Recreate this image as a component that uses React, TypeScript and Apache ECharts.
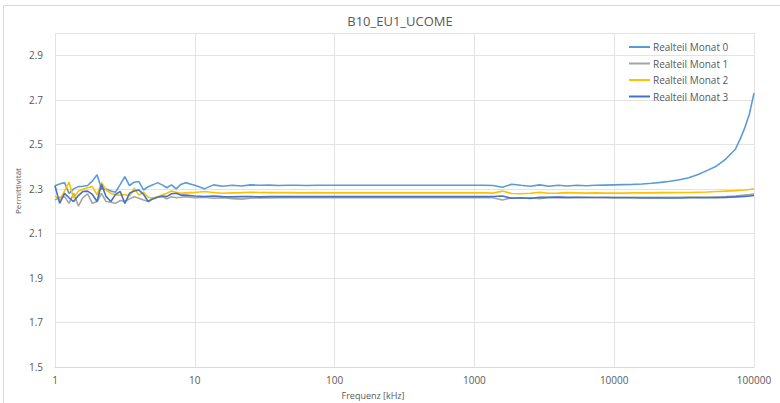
import React, { useEffect, useRef } from "react";
import * as echarts from "echarts";

// Measurement frequencies in kHz
const frequencies: number[] = [
  1, 1.08, 1.17, 1.26, 1.36, 1.47, 1.58, 1.71, 1.85, 2.0, 2.15, 2.32, 2.51, 2.71, 2.93, 3.16,
  3.41, 3.69, 3.98, 4.3, 4.64, 5.01, 5.41, 5.84, 6.31, 6.81, 7.36, 7.94, 8.58, 9.26, 10,
  11.7, 13.6, 15.8, 18.5, 21.5, 25.1, 29.3, 34.1, 39.8, 46.4, 54.1, 63.1, 73.6, 85.8, 100,
  126, 158, 200, 251, 316, 398, 501, 631, 794, 1000,
  1166, 1359, 1585, 1848, 2154, 2512, 2929, 3415, 3981, 4642, 5412, 6310, 7356, 8577, 10000,
  11659, 13594, 15849, 18478, 21544, 25119, 29286, 34145, 39811, 46416, 54117, 63096, 73564,
  79433, 85770, 92612, 100000,
];

const monat0: number[] = [
  2.314, 2.322, 2.328, 2.28, 2.3, 2.31, 2.312, 2.315, 2.335, 2.363, 2.3, 2.3, 2.29, 2.285, 2.32, 2.355,
  2.315, 2.33, 2.333, 2.295, 2.31, 2.318, 2.328, 2.318, 2.305, 2.318, 2.3, 2.32, 2.328, 2.322, 2.316,
  2.3, 2.318, 2.312, 2.316, 2.313, 2.318, 2.316, 2.317, 2.315, 2.316, 2.316, 2.315, 2.316, 2.316, 2.316,
  2.316, 2.316, 2.316, 2.316, 2.316, 2.316, 2.316, 2.316, 2.316, 2.316,
  2.316, 2.315, 2.307, 2.321, 2.316, 2.312, 2.318, 2.312, 2.316, 2.313, 2.316, 2.314, 2.316, 2.317, 2.318,
  2.319, 2.32, 2.322, 2.325, 2.329, 2.334, 2.341, 2.35, 2.365, 2.383, 2.403, 2.435, 2.478,
  2.522, 2.573, 2.635, 2.73,
];

const monat1: number[] = [
  2.25, 2.262, 2.265, 2.235, 2.28, 2.223, 2.26, 2.278, 2.235, 2.243, 2.28, 2.243, 2.24, 2.235, 2.248, 2.243,
  2.255, 2.265, 2.258, 2.25, 2.243, 2.26, 2.262, 2.265, 2.255, 2.265, 2.26, 2.262, 2.265, 2.263, 2.26,
  2.262, 2.258, 2.26, 2.256, 2.254, 2.258, 2.26, 2.259, 2.26, 2.261, 2.26, 2.26, 2.261, 2.26, 2.26,
  2.26, 2.26, 2.261, 2.26, 2.26, 2.26, 2.26, 2.26, 2.26, 2.26,
  2.261, 2.26, 2.25, 2.26, 2.258, 2.26, 2.256, 2.261, 2.262, 2.26, 2.261, 2.262, 2.261, 2.262, 2.262,
  2.262, 2.262, 2.262, 2.262, 2.262, 2.262, 2.262, 2.263, 2.263, 2.263, 2.264, 2.265, 2.268,
  2.27, 2.272, 2.274, 2.277,
];

const monat2: number[] = [
  2.268, 2.25, 2.29, 2.33, 2.258, 2.29, 2.298, 2.305, 2.31, 2.273, 2.328, 2.295, 2.28, 2.273, 2.272, 2.275,
  2.268, 2.303, 2.273, 2.285, 2.262, 2.258, 2.265, 2.272, 2.28, 2.29, 2.285, 2.28, 2.282, 2.283, 2.284,
  2.288, 2.284, 2.28, 2.282, 2.283, 2.285, 2.284, 2.283, 2.284, 2.283, 2.282, 2.282, 2.283, 2.282, 2.282,
  2.282, 2.282, 2.282, 2.282, 2.282, 2.282, 2.282, 2.282, 2.282, 2.282,
  2.282, 2.281, 2.29, 2.279, 2.278, 2.28, 2.285, 2.28, 2.281, 2.283, 2.282, 2.281, 2.282, 2.281, 2.281,
  2.281, 2.282, 2.282, 2.282, 2.283, 2.283, 2.284, 2.284, 2.285, 2.286, 2.288, 2.29, 2.292,
  2.294, 2.295, 2.297, 2.3,
];

const monat3: number[] = [
  2.314, 2.235, 2.28, 2.26, 2.243, 2.27, 2.288, 2.29, 2.275, 2.243, 2.322, 2.265, 2.243, 2.275, 2.288, 2.235,
  2.28, 2.29, 2.295, 2.275, 2.243, 2.255, 2.262, 2.268, 2.265, 2.278, 2.28, 2.272, 2.272, 2.27, 2.268,
  2.266, 2.268, 2.265, 2.264, 2.265, 2.265, 2.264, 2.265, 2.265, 2.265, 2.265, 2.265, 2.265, 2.265, 2.265,
  2.265, 2.265, 2.265, 2.265, 2.265, 2.265, 2.265, 2.265, 2.265, 2.265,
  2.265, 2.266, 2.268, 2.258, 2.26, 2.257, 2.262, 2.262, 2.263, 2.262, 2.262, 2.261, 2.261, 2.261, 2.26,
  2.26, 2.26, 2.259, 2.259, 2.259, 2.259, 2.259, 2.26, 2.26, 2.26, 2.26, 2.262, 2.264,
  2.265, 2.266, 2.268, 2.27,
];

const seriesNames = ["Realteil Monat 0", "Realteil Monat 1", "Realteil Monat 2", "Realteil Monat 3"];
const seriesValues = [monat0, monat1, monat2, monat3];
const seriesColors = ["#5B9BD5", "#A5A5A5", "#FFC000", "#4472C4"];

const FONT = "'Open Sans', 'Noto Sans', sans-serif";
const TEXT = "#595959";

export default function App() {
  const ref = useRef<HTMLDivElement>(null);

  useEffect(() => {
    document.body.style.margin = "0";
    if (!ref.current) return;
    const chart = echarts.init(ref.current, undefined, { renderer: "svg" });

    const series = seriesNames.map((name, i) => ({
      name,
      type: "line",
      showSymbol: false,
      symbol: "none",
      lineStyle: { width: 1.6, color: seriesColors[i] },
      itemStyle: { color: seriesColors[i] },
      data: frequencies.map((f, j) => [f, seriesValues[i][j]]),
    }));

    chart.setOption({
      animation: false,
      backgroundColor: "#ffffff",
      textStyle: { fontFamily: FONT },
      title: {
        text: "B10_EU1_UCOME",
        left: 395,
        top: 9,
        textAlign: "center",
        textStyle: { fontFamily: FONT, fontSize: 13, fontWeight: "normal", color: TEXT },
      },
      graphic: [
        {
          type: "rect",
          shape: { x: 3.5, y: 5.5, width: 800, height: 420 },
          style: { fill: "none", stroke: "#D9D9D9", lineWidth: 1 },
          silent: true,
        },
        {
          type: "text",
          x: 17,
          y: 191,
          rotation: Math.PI / 2,
          style: {
            text: "Permittivität",
            fontFamily: FONT,
            fontSize: 8,
            fill: TEXT,
            align: "center",
            verticalAlign: "middle",
          },
        },
      ],
      legend: {
        orient: "vertical",
        left: 629,
        top: 40,
        padding: 0,
        icon: "rect",
        itemWidth: 21,
        itemHeight: 2,
        itemGap: 2.5,
        textStyle: { fontFamily: FONT, fontSize: 10, color: TEXT, lineHeight: 14, padding: [0, 0, 0, -2] },
        data: seriesNames,
      },
      grid: { left: 55, right: 26, top: 33, bottom: 36, containLabel: false, outerBoundsMode: "none" },
      xAxis: {
        type: "log",
        logBase: 10,
        min: 1,
        max: 100000,
        name: "Frequenz [kHz]",
        nameLocation: "middle",
        nameGap: 24,
        nameTextStyle: { fontFamily: FONT, fontSize: 9, color: TEXT, padding: [0, 0, 0, -63] },
        axisLine: { show: true, lineStyle: { color: "#D9D9D9" } },
        axisTick: { show: false },
        splitLine: { show: true, lineStyle: { color: "#E3E3E3", width: 1 } },
        minorTick: { show: false },
        axisLabel: {
          fontFamily: FONT,
          fontSize: 10,
          color: TEXT,
          margin: 8,
          formatter: (v: number) => String(Math.round(v)),
        },
      },
      yAxis: {
        type: "value",
        min: 1.5,
        max: 3.0,
        interval: 0.2,
        axisLine: { show: false },
        axisTick: { show: false },
        splitLine: { show: true, lineStyle: { color: "#E3E3E3", width: 1 } },
        axisLabel: {
          fontFamily: FONT,
          fontSize: 10,
          color: TEXT,
          margin: 12,
          showMaxLabel: false,
          formatter: (v: number) => v.toFixed(1),
        },
      },
      series,
    });

    return () => chart.dispose();
  }, []);

  return <div ref={ref} style={{ width: 780, height: 403 }} />;
}
